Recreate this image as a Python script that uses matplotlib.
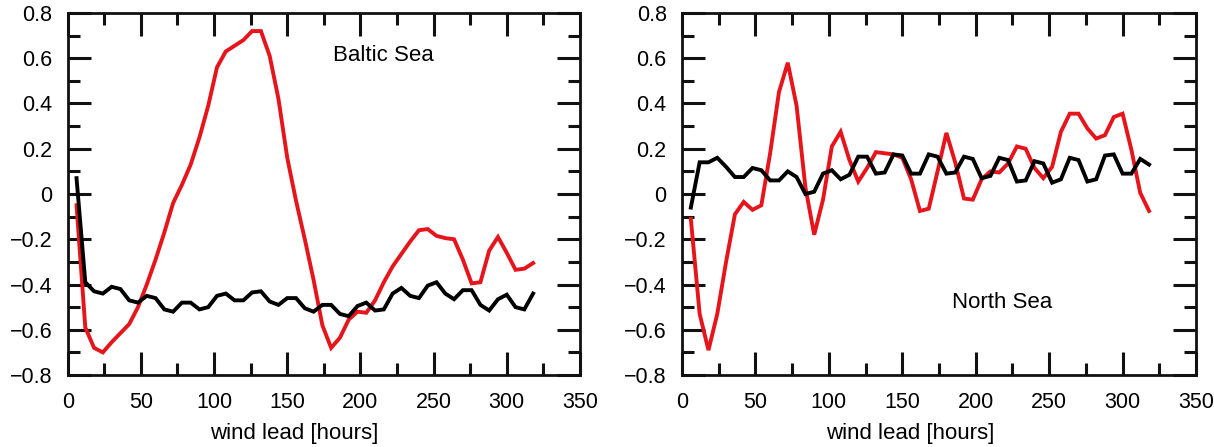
import numpy as np
import matplotlib
matplotlib.use("Agg")
import matplotlib.pyplot as plt
from matplotlib.ticker import MultipleLocator, FuncFormatter

plt.rcParams["font.family"] = ["Liberation Sans", "DejaVu Sans"]

# wind lead in hours, 6-hourly from 6 to 318
lead = np.arange(6, 319, 6)

baltic_red = [
    -0.05, -0.59, -0.68, -0.70, -0.655, -0.615, -0.575, -0.50, -0.40, -0.29,
    -0.17, -0.04, 0.04, 0.13, 0.25, 0.39, 0.56, 0.63, 0.655, 0.68,
    0.72, 0.72, 0.61, 0.42, 0.16, -0.03, -0.20, -0.38, -0.58, -0.68,
    -0.635, -0.555, -0.52, -0.525, -0.47, -0.39, -0.32, -0.265, -0.21, -0.16,
    -0.155, -0.185, -0.195, -0.20, -0.29, -0.395, -0.39, -0.25, -0.19, -0.26,
    -0.335, -0.33, -0.305,
]
baltic_black = [
    0.07, -0.39, -0.43, -0.44, -0.41, -0.42, -0.47, -0.48, -0.45, -0.46,
    -0.51, -0.52, -0.48, -0.48, -0.51, -0.50, -0.45, -0.44, -0.47, -0.47,
    -0.435, -0.43, -0.475, -0.49, -0.46, -0.46, -0.505, -0.52, -0.49, -0.49,
    -0.53, -0.54, -0.495, -0.48, -0.515, -0.51, -0.44, -0.415, -0.45, -0.46,
    -0.405, -0.39, -0.44, -0.465, -0.425, -0.425, -0.49, -0.515, -0.465, -0.445,
    -0.50, -0.51, -0.44,
]
north_red = [
    -0.11, -0.53, -0.69, -0.53, -0.30, -0.09, -0.035, -0.07, -0.05, 0.18,
    0.45, 0.58, 0.39, 0.03, -0.18, -0.025, 0.21, 0.275, 0.15, 0.055,
    0.115, 0.185, 0.18, 0.175, 0.16, 0.065, -0.075, -0.065, 0.10, 0.27,
    0.14, -0.02, -0.025, 0.065, 0.10, 0.095, 0.135, 0.21, 0.20, 0.115,
    0.07, 0.12, 0.275, 0.355, 0.355, 0.29, 0.245, 0.26, 0.34, 0.355,
    0.195, 0.005, -0.075,
]
north_black = [
    -0.06, 0.14, 0.14, 0.16, 0.12, 0.075, 0.075, 0.115, 0.105, 0.06,
    0.06, 0.10, 0.075, 0.0, 0.01, 0.09, 0.105, 0.065, 0.085, 0.165,
    0.165, 0.09, 0.095, 0.175, 0.17, 0.09, 0.09, 0.175, 0.165, 0.09,
    0.095, 0.165, 0.155, 0.07, 0.08, 0.16, 0.15, 0.055, 0.06, 0.145,
    0.135, 0.05, 0.065, 0.16, 0.15, 0.055, 0.065, 0.17, 0.175, 0.09,
    0.09, 0.155, 0.13,
]

panels = [
    ("Baltic Sea", baltic_red, baltic_black, (181, 0.61)),
    ("North Sea", north_red, north_black, (184, -0.48)),
]

RED = "#e6141b"


def fmt(v, _pos):
    s = "%g" % round(v, 2)
    return s.replace("-", "\u2212")


fig = plt.figure(figsize=(12.14, 4.47), dpi=100)
ax_l = fig.add_axes([0.0558, 0.161, 0.4219, 0.810])
ax_r = fig.add_axes([0.5618, 0.161, 0.4234, 0.810])

for ax, (name, red, black, pos) in zip([ax_l, ax_r], panels):
    ax.plot(lead, red, color=RED, lw=2.8, solid_joinstyle="miter", zorder=3)
    ax.plot(lead, black, color="black", lw=2.8, solid_joinstyle="miter", zorder=3)

    ax.set_xlim(0, 350)
    ax.set_ylim(-0.8, 0.8)
    ax.xaxis.set_major_locator(MultipleLocator(50))
    ax.xaxis.set_minor_locator(MultipleLocator(25))
    ax.yaxis.set_major_locator(MultipleLocator(0.2))
    ax.yaxis.set_minor_locator(MultipleLocator(0.1))
    ax.yaxis.set_major_formatter(FuncFormatter(fmt))
    ax.xaxis.set_major_formatter(FuncFormatter(fmt))

    ax.tick_params(which="both", direction="in", top=True, right=True,
                   color="#111111")
    ax.tick_params(which="major", length=16.5, width=2.2, labelsize=15.5,
                   pad=11)
    ax.tick_params(axis="x", which="major", pad=12)
    ax.tick_params(which="minor", length=8.5, width=2.2)
    for sp in ax.spines.values():
        sp.set_linewidth(2.0)
        sp.set_color("#111111")

    ax.set_xlabel("wind lead [hours]", fontsize=16)
    ax.xaxis.set_label_coords(0.443, -0.133)

    ax.text(pos[0], pos[1], name, fontsize=16, ha="left", va="center")

fig.savefig("out.png", dpi=100)
